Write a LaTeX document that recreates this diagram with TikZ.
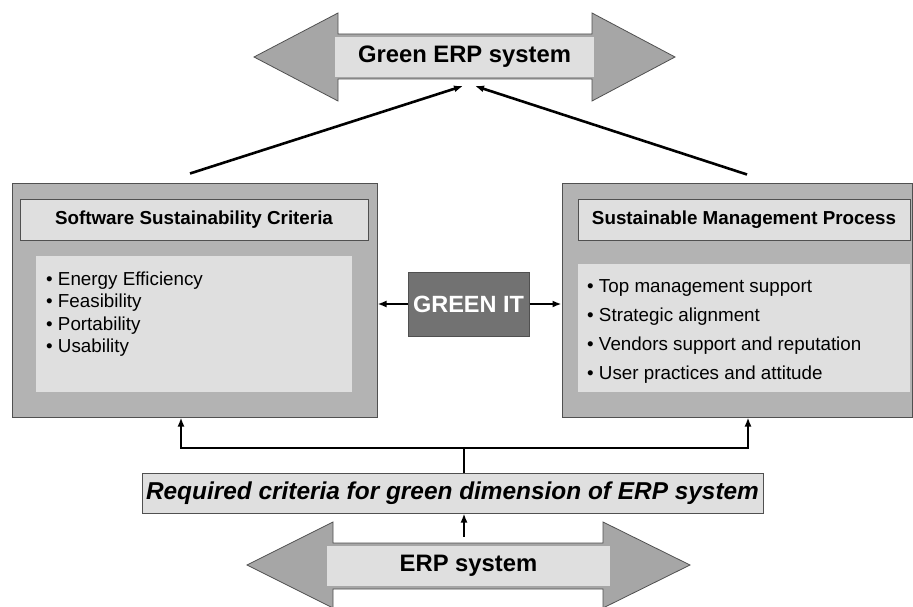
\documentclass[tikz,border=0pt]{standalone}
\usepackage{fontspec}
\setmainfont{Liberation Sans}
\usetikzlibrary{arrows.meta, positioning, calc}

\definecolor{boxgray}{HTML}{B3B3B3}
\definecolor{arrowgray}{HTML}{A6A6A6}
\definecolor{palegray}{HTML}{DFDFDF}
\definecolor{edgegray}{HTML}{505050}
\definecolor{itgray}{HTML}{727272}

\begin{document}
\begin{tikzpicture}[
    x=1pt, y=-1pt,
    >={Latex[length=9pt, width=7pt]},
    bigarrow/.style={fill=arrowgray, draw=edgegray, line width=0.8pt},
    bandtext/.style={fill=palegray, inner sep=0pt, font=\fontsize{23.8}{28}\selectfont\bfseries},
    panel/.style={draw=edgegray, fill=boxgray, line width=1pt, inner sep=0pt, minimum height=234pt},
    heading/.style={draw=edgegray, fill=palegray, line width=1pt, inner sep=0pt,
                    minimum height=41pt, font=\fontsize{18.8}{22}\selectfont\bfseries},
    listbg/.style={fill=palegray, inner sep=0pt},
    items/.style={anchor=west, align=left, inner sep=0pt},
    link/.style={->, line width=2.6pt},
]
\clip (0,0) rectangle (913,607);

% double arrows, top and bottom
\draw[bigarrow] (254,57) -- (338,13) -- (338,34) -- (592,34) -- (592,13) -- (675,57)
    -- (592,101) -- (592,79) -- (338,79) -- (338,101) -- cycle;
\node[bandtext, minimum width=259pt, minimum height=40pt] (green) at (464.5,57) {Green ERP system};

\draw[bigarrow] (247,565) -- (333,522) -- (333,543) -- (603,543) -- (603,522) -- (690,565)
    -- (603,608) -- (603,589) -- (333,589) -- (333,608) -- cycle;
\node[bandtext, minimum width=283pt, minimum height=40pt] (erp) at (468.5,566) {ERP system};

% left panel
\node[panel, minimum width=365pt] (ssc) at (194.5,300) {};
\node[heading, minimum width=348pt] (ssctitle) at (194,219.5) {Software Sustainability Criteria};
\node[listbg, minimum width=316pt, minimum height=136pt] (sscbg) at (194,324) {};
\node[items, font=\fontsize{18.8}{22.4}\selectfont] (sscitems) at (46,314)
    {• Energy Efficiency\\• Feasibility\\• Portability\\• Usability};

% right panel
\node[panel, minimum width=350pt] (smp) at (737,300) {};
\node[heading, minimum width=332pt] (smptitle) at (744,219.5) {Sustainable Management Process};
\node[listbg, minimum width=332pt, minimum height=128pt] (smpbg) at (744,328) {};
\node[items, font=\fontsize{18.8}{29}\selectfont] (smpitems) at (587,331)
    {• Top management support\\• Strategic alignment\\• Vendors support and reputation\\• User practices and attitude};

% centre block
\node[draw=edgegray, fill=itgray, line width=1pt, text=white, inner sep=0pt,
      minimum width=121pt, minimum height=64pt, font=\fontsize{23.5}{26}\selectfont\bfseries]
    (greenit) at (468.5,304) {GREEN IT};
\draw[link] (greenit.west) -- (greenit.west -| ssc.east);
\draw[link] (greenit.east) -- (greenit.east -| smp.west);

% links up to the green system
\coordinate (tipL) at (463,86);
\coordinate (tipR) at (475,86);
\draw[link] ([xshift=-4.5pt, yshift=9pt]ssc.north) -- (tipL);
\draw[link] ([xshift=10pt, yshift=8pt]smp.north) -- (tipR);

% criteria bar and fork
\node[draw=edgegray, fill=palegray, line width=1pt, inner sep=0pt,
      minimum width=621pt, minimum height=40pt, font=\fontsize{24.4}{28}\selectfont\bfseries\itshape]
    (criteria) at (452.5,493) {Required criteria for green dimension of ERP system};

\coordinate (fork) at (464,448);
\draw[line width=2.6pt] (criteria.north -| fork) -- (fork);
\draw[link] (fork) -| ([xshift=-13.5pt]ssc.south);
\draw[link] (fork) -| ([xshift=11pt]smp.south);
\draw[link] ([yshift=9pt]erp.north -| fork) -- (criteria.south -| fork);

\end{tikzpicture}
\end{document}
